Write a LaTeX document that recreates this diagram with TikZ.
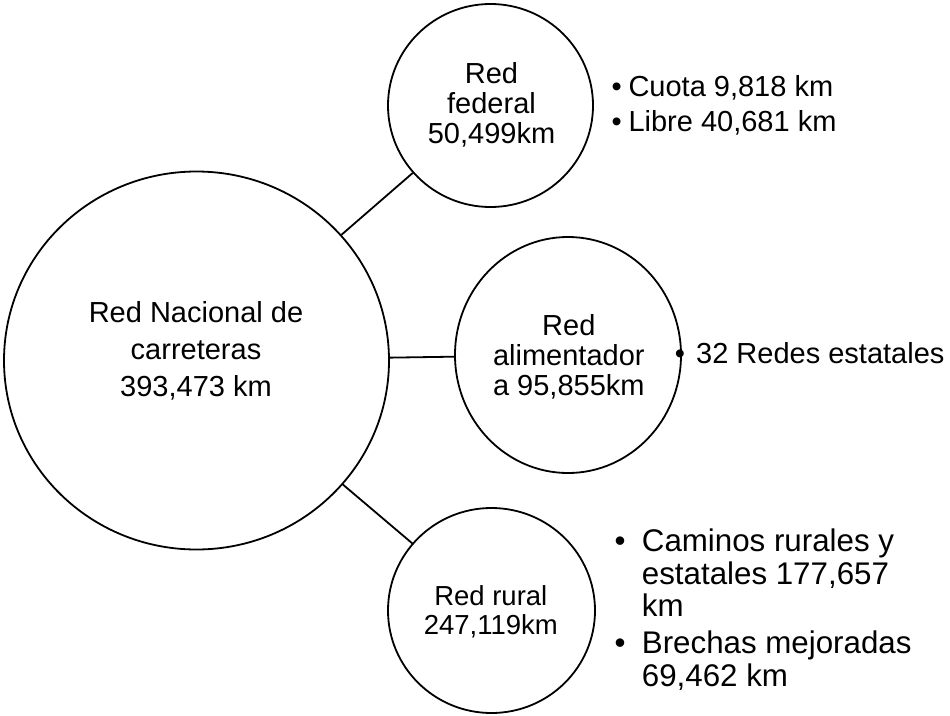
\documentclass[tikz,border=0pt]{standalone}
\usepackage{fontspec}
\setmainfont{Liberation Sans}
\usetikzlibrary{shapes.geometric}
\begin{document}
\begin{tikzpicture}[x=1pt,y=-1pt,
  circ/.style={draw, ellipse, line width=1.8pt, inner sep=0pt},
  lbl/.style={align=center, inner sep=0pt, anchor=base},
  conn/.style={line width=1.8pt},
  dot/.style={inner sep=0pt, anchor=base},
  bul/.style={align=left, inner sep=0pt, anchor=base west}]
\useasboundingbox (0,0) rectangle (950,715);
% circles
\node[circ, minimum width=385pt, minimum height=378pt] (nac) at (196.5,360.5) {};
\node[circ, minimum width=205pt, minimum height=203pt] (fed) at (490.5,105.5) {};
\node[circ, minimum width=226pt, minimum height=236pt] (ali) at (568,355) {};
\node[circ, minimum width=207pt, minimum height=205pt] (rur) at (491.5,610.5) {};
% connectors
\draw[conn] (nac) -- (fed);
\draw[conn] (nac) -- (ali);
\draw[conn] (nac) -- (rur);
% circle texts (anchored at the baseline of the last line)
\node[lbl, font=\fontsize{29}{37}\selectfont] (tnac) at (196,396) {Red Nacional de\\carreteras\\393,473 km};
\node[lbl, font=\fontsize{29}{30}\selectfont] (tfed) at (491.5,143.3) {Red\\federal\\50,499km};
\node[lbl, font=\fontsize{29}{30}\selectfont] (tali) at (568.8,395) {Red\\alimentador\\a 95,855km};
\node[lbl, font=\fontsize{27.5}{29}\selectfont] (trur) at (490.8,634) {Red rural\\247,119km};
% federal bullets
\node[dot, font=\fontsize{29}{35}\selectfont] (df1) at (616.7,96) {•};
\node[dot, font=\fontsize{29}{35}\selectfont] (df2) at (616.7,131.7) {•};
\node[bul, font=\fontsize{29}{35.7}\selectfont] (bfed) at (628.3,131.7) {Cuota 9,818 km\\Libre 40,681 km};
% alimentador bullet
\node[dot, font=\fontsize{29}{35}\selectfont] (da1) at (680,363) {•};
\node[bul, font=\fontsize{29}{35}\selectfont] (bali) at (696,363) {32 Redes estatales};
% rural bullets
\node[dot, font=\fontsize{31.3}{33}\selectfont] (dr1) at (620,551.7) {•};
\node[bul, font=\fontsize{31.3}{32.5}\selectfont] (bt1) at (641.7,616.7) {Caminos rurales y\\estatales 177,657\\km};
\node[dot, font=\fontsize{31.3}{33}\selectfont] (dr2) at (620,653.3) {•};
\node[bul, font=\fontsize{31.3}{33.4}\selectfont] (bt2) at (641.7,686.7) {Brechas mejoradas\\69,462 km};
\end{tikzpicture}
\end{document}
